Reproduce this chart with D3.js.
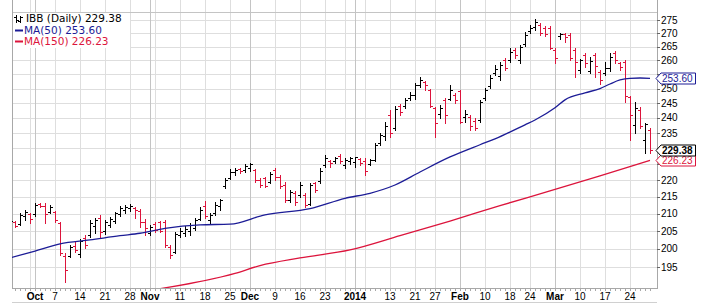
<!DOCTYPE html>
<html>
<head>
<meta charset="utf-8">
<script src="https://cdn.jsdelivr.net/npm/d3@7"></script>
<style>
  body { margin: 0; background: #fff; }
  svg { display: block; }
</style>
</head>
<body>
<div id="chart"></div>
<script>
// trading days shown (first one is clipped at the left edge)
const startDate = '2013-09-24', endDate = '2014-03-28';
const holidays = ['2013-11-28', '2013-12-25', '2014-01-01', '2014-01-20', '2014-02-17'];

// IBB daily OHLC
const open = [
  206.8, 207.6, 207.1, 209.4, 210.0, 210.0, 212.9, 212.4, 210.6, 210.6,
  207.4, 198.1, 198.1, 200.8, 198.6, 203.1, 204.0, 206.5, 208.8, 205.1,
  206.8, 207.9, 210.0, 211.2, 211.8, 211.8, 210.9, 207.6, 204.5, 207.1,
  207.6, 207.6, 200.5, 199.2, 204.0, 204.5, 205.1, 206.0, 208.5, 212.4,
  208.2, 210.3, 212.4, 218.4, 220.8, 222.6, 223.5, 223.2, 223.8, 223.2,
  220.2, 220.8, 219.6, 223.2, 221.1, 218.6, 214.1, 216.2, 215.6, 215.6,
  212.9, 219.3, 219.9, 224.8, 226.1, 226.1, 227.6, 224.8, 226.1, 225.8,
  226.7, 226.1, 225.1, 226.4, 231.8, 234.1, 241.0, 236.7, 244.1, 244.1,
  246.8, 247.8, 251.3, 252.3, 249.5, 243.4, 241.3, 246.1, 246.5, 247.8,
  249.2, 240.3, 240.3, 239.0, 239.3, 246.8, 250.9, 255.5, 254.4, 260.2,
  260.2, 263.8, 260.2, 266.0, 270.9, 272.4, 273.2, 272.1, 272.1, 263.8,
  269.0, 269.8, 269.4, 263.8, 256.6, 262.0, 256.2, 262.0, 255.9, 255.5,
  257.3, 262.7, 259.1, 259.5, 247.1, 237.7, 242.7, 232.8, 236.0
];
const high = [
  208.5, 207.9, 210.3, 211.2, 210.3, 213.2, 213.2, 213.2, 212.6, 210.9,
  207.6, 198.9, 201.1, 201.9, 202.8, 204.0, 208.2, 208.8, 209.7, 208.2,
  209.1, 210.6, 212.4, 212.6, 212.9, 212.1, 211.5, 208.5, 206.8, 207.6,
  207.9, 208.2, 201.1, 204.8, 206.0, 206.5, 207.4, 208.8, 212.1, 213.8,
  210.3, 213.5, 214.4, 220.8, 223.5, 223.8, 223.8, 225.1, 225.4, 223.5,
  220.8, 221.1, 222.6, 223.8, 221.7, 219.6, 217.1, 216.8, 219.6, 216.2,
  219.3, 219.6, 223.8, 227.9, 226.4, 227.3, 228.3, 227.0, 227.3, 227.3,
  227.0, 227.0, 226.7, 231.8, 235.0, 238.6, 242.7, 244.1, 244.7, 246.8,
  248.8, 252.0, 254.1, 252.7, 249.9, 243.7, 244.4, 246.8, 251.3, 248.5,
  249.5, 242.7, 241.0, 240.0, 246.1, 250.2, 254.8, 258.4, 259.5, 261.0,
  264.5, 264.5, 265.7, 270.5, 273.2, 275.5, 274.0, 272.8, 272.8, 264.5,
  270.2, 270.2, 270.2, 264.5, 260.6, 262.7, 261.3, 262.7, 256.6, 259.5,
  262.7, 263.4, 259.5, 260.2, 247.5, 245.4, 243.7, 238.3, 236.7
];
const low = [
  206.5, 206.2, 206.8, 208.2, 207.4, 209.4, 212.1, 207.4, 210.3, 207.6,
  198.3, 191.1, 197.8, 199.2, 197.8, 200.3, 203.4, 204.5, 203.4, 204.2,
  206.2, 207.4, 209.4, 210.3, 210.9, 208.8, 206.2, 204.0, 204.0, 204.8,
  204.8, 200.5, 197.5, 198.9, 203.4, 203.7, 204.0, 205.4, 208.2, 208.8,
  207.4, 209.7, 211.2, 217.7, 220.5, 221.7, 222.3, 222.6, 222.9, 219.6,
  218.0, 218.0, 219.3, 220.2, 217.7, 213.5, 213.5, 212.6, 215.0, 212.1,
  212.6, 216.5, 219.3, 224.2, 224.2, 225.4, 225.4, 223.8, 225.1, 224.2,
  224.8, 221.7, 224.8, 226.1, 231.2, 232.8, 233.8, 236.0, 241.0, 243.4,
  246.1, 246.5, 250.6, 249.5, 243.7, 233.8, 240.0, 238.3, 246.1, 245.1,
  238.3, 238.6, 236.0, 236.0, 238.6, 246.1, 250.2, 254.8, 253.0, 256.6,
  259.5, 261.0, 259.1, 265.3, 270.2, 271.3, 269.4, 269.0, 264.2, 259.1,
  267.9, 266.8, 260.2, 254.1, 255.5, 257.7, 255.5, 254.1, 251.6, 254.8,
  256.2, 259.1, 256.6, 245.4, 232.8, 235.0, 236.7, 228.6, 228.6
];
const close = [
  207.9, 206.5, 209.7, 210.6, 208.5, 212.6, 212.4, 210.0, 212.1, 208.2,
  198.9, 194.2, 200.5, 199.7, 202.2, 201.1, 207.4, 208.2, 204.8, 207.6,
  208.5, 210.3, 211.8, 212.1, 212.4, 211.2, 207.6, 206.0, 206.2, 205.4,
  205.1, 201.1, 198.3, 204.2, 205.1, 205.7, 206.8, 208.2, 211.2, 209.4,
  209.7, 212.6, 214.1, 220.2, 222.6, 223.2, 222.9, 224.5, 225.1, 220.2,
  218.6, 218.3, 222.0, 221.1, 218.3, 214.1, 216.5, 213.5, 218.6, 212.6,
  218.6, 217.1, 222.9, 227.0, 225.4, 227.0, 226.1, 226.4, 227.0, 227.3,
  225.4, 222.9, 226.4, 231.2, 234.4, 237.3, 235.0, 243.0, 242.0, 246.1,
  247.8, 251.3, 253.0, 251.3, 244.1, 238.3, 243.4, 241.0, 249.5, 246.1,
  238.6, 241.3, 237.3, 236.7, 245.4, 249.5, 253.7, 257.0, 258.4, 257.3,
  263.1, 262.0, 264.9, 269.4, 272.1, 274.3, 270.2, 269.8, 264.5, 261.0,
  269.8, 268.6, 261.0, 259.5, 260.2, 259.1, 259.8, 258.0, 253.0, 257.3,
  261.3, 260.2, 257.7, 247.5, 241.0, 243.4, 237.3, 238.0, 229.38
];

// moving averages, sampled along the drawn lines (bar index, value)
const ma50Idx = [0, 5, 10, 16, 22, 26, 31, 38, 44, 51, 60, 67, 72, 77, 82, 88, 94, 97, 103, 105, 109, 111, 115, 118, 120, 122, 124, 126, 128];
const ma50Val = [197.5, 199.4, 201.4, 202.5, 203.7, 204.4, 205.8, 206.8, 207.0, 209.7, 211.5, 214.6, 216.1, 218.6, 222.6, 227.3, 231.2, 233.1, 237.7, 239.3, 243.4, 246.1, 248.5, 250.0, 251.6, 253.0, 253.6, 253.7, 253.6];
const ma150Idx = [29, 45, 50, 58, 68, 78, 88, 98, 108, 118, 128];
const ma150Val = [189.0, 193.3, 195.4, 197.5, 199.7, 203.7, 207.9, 212.4, 216.8, 221.4, 226.23];

const yTicks = [195, 200, 205, 210, 215, 220, 225, 230, 235, 240, 245, 250, 255, 260, 265, 270, 275];
const monthNames = ['Jan', 'Feb', 'Mar', 'Apr', 'May', 'Jun', 'Jul', 'Aug', 'Sep', 'Oct', 'Nov', 'Dec'];

const lastLabel = { price: 'IBB (Daily) 229.38', ma50: 'MA(50) 253.60', ma150: 'MA(150) 226.23' };
const tags = { ma50: 253.60, close: 229.38, ma150: 226.23 };

const W = 702, H = 304;
const plot = { left: 12, right: 657, top: 0, bottom: 288 };
const UP = '#000000', DOWN = '#dc143c', BLUE = '#1c1c96', RED = '#dc143c';

const fmt = d3.utcFormat('%Y-%m-%d');
const hol = new Set(holidays);
const dates = d3.utcDay.range(new Date(startDate), d3.utcDay.offset(new Date(endDate), 1))
  .filter(d => d.getUTCDay() % 6 !== 0 && !hol.has(fmt(d)));

const bars = dates.map((d, k) => ({
  k, date: d, o: open[k], h: high[k], l: low[k], c: close[k],
  up: k === 0 || close[k] >= close[k - 1]
}));

const x = d3.scaleLinear().domain([0.4, dates.length + 0.4]).range([plot.left, plot.right]);
const y = d3.scaleLog().domain([189.4, 282.8]).range([plot.bottom, plot.top]);
const px = v => Math.round(v) + 0.5;

const svg = d3.select('#chart').append('svg')
  .attr('width', W).attr('height', H)
  .style('font-family', '"Liberation Sans", Arial, sans-serif');

svg.append('defs').append('clipPath').attr('id', 'clip')
  .append('rect')
  .attr('x', plot.left).attr('y', plot.top)
  .attr('width', plot.right - plot.left).attr('height', plot.bottom - plot.top);

// week / month grid positions
const grid = [];
bars.forEach((b, k) => {
  if (k === 0) return;
  const prev = bars[k - 1].date;
  const monthStart = b.date.getUTCMonth() !== prev.getUTCMonth();
  const weekStart = b.date.getUTCDay() <= prev.getUTCDay();
  if (monthStart || weekStart) grid.push({ k, date: b.date, monthStart });
});
const monthKs = grid.filter(g => g.monthStart).map(g => g.k);
grid.forEach(g => {
  if (g.monthStart) {
    g.label = g.date.getUTCMonth() === 0 ? String(g.date.getUTCFullYear()) : monthNames[g.date.getUTCMonth()];
  } else if (!monthKs.some(m => Math.abs(m - g.k) <= 2)) {
    g.label = String(g.date.getUTCDate());
  }
});

// horizontal grid
svg.append('g').selectAll('line').data(yTicks).join('line')
  .attr('x1', plot.left).attr('x2', plot.right)
  .attr('y1', d => px(y(d))).attr('y2', d => px(y(d)))
  .attr('stroke', '#dedede').attr('shape-rendering', 'crispEdges');

// vertical grid
svg.append('g').selectAll('line').data(grid).join('line')
  .attr('x1', d => px(x(d.k))).attr('x2', d => px(x(d.k)))
  .attr('y1', plot.top).attr('y2', plot.bottom)
  .attr('stroke', d => d.monthStart ? '#c4c4c4' : '#dedede')
  .attr('shape-rendering', 'crispEdges');

// upper rule of the price panel
svg.append('line')
  .attr('x1', plot.left).attr('x2', plot.right)
  .attr('y1', 12.5).attr('y2', 12.5)
  .attr('stroke', '#c4c4c4').attr('shape-rendering', 'crispEdges');

// plot frame
svg.append('path')
  .attr('d', `M${plot.left + 0.5},${plot.top}V${plot.bottom + 0.5}H${plot.right + 0.5}V${plot.top}`)
  .attr('fill', 'none').attr('stroke', '#a8a8a8').attr('shape-rendering', 'crispEdges');

// day ticks under the plot
svg.append('g').selectAll('line').data(bars.filter(b => x(b.k) > plot.left)).join('line')
  .attr('x1', d => px(x(d.k))).attr('x2', d => px(x(d.k)))
  .attr('y1', plot.bottom + 1).attr('y2', plot.bottom + 3)
  .attr('stroke', '#a8a8a8').attr('shape-rendering', 'crispEdges');

svg.append('line')
  .attr('x1', plot.left).attr('x2', plot.right)
  .attr('y1', 302.5).attr('y2', 302.5)
  .attr('stroke', '#d0d0d0').attr('shape-rendering', 'crispEdges');

// x labels
svg.append('g').selectAll('text').data(grid.filter(g => g.label)).join('text')
  .attr('x', d => x(d.k)).attr('y', 300)
  .attr('text-anchor', 'middle')
  .attr('font-size', 10)
  .attr('font-weight', d => d.monthStart ? 'bold' : 'normal')
  .attr('fill', '#000')
  .text(d => d.label);

// y axis ticks and labels (labels under a value tag are covered by it)
const tagYs = Object.values(tags).map(v => y(v));
const yAxis = svg.append('g');
yAxis.selectAll('line').data(yTicks).join('line')
  .attr('x1', plot.right).attr('x2', plot.right + 3)
  .attr('y1', d => px(y(d))).attr('y2', d => px(y(d)))
  .attr('stroke', '#666').attr('shape-rendering', 'crispEdges');
yAxis.selectAll('text').data(yTicks.filter(t => tagYs.every(ty => Math.abs(y(t) - ty) > 9))).join('text')
  .attr('x', plot.right + 4).attr('y', d => y(d))
  .attr('dy', '0.35em').attr('font-size', 10).attr('fill', '#000')
  .text(d => d);

// price bars
const barG = svg.append('g').attr('clip-path', 'url(#clip)')
  .attr('shape-rendering', 'crispEdges');
const barSel = barG.selectAll('g').data(bars).join('g')
  .attr('stroke', d => d.up ? UP : DOWN);
barSel.append('line')
  .attr('x1', d => px(x(d.k))).attr('x2', d => px(x(d.k)))
  .attr('y1', d => Math.round(y(d.h))).attr('y2', d => Math.round(y(d.l)) + 1);
barSel.append('line')
  .attr('x1', d => Math.round(x(d.k)) - 2).attr('x2', d => Math.round(x(d.k)))
  .attr('y1', d => px(y(d.o))).attr('y2', d => px(y(d.o)));
barSel.append('line')
  .attr('x1', d => Math.round(x(d.k)) + 1).attr('x2', d => Math.round(x(d.k)) + 3)
  .attr('y1', d => px(y(d.c))).attr('y2', d => px(y(d.c)));

// moving averages
const maLine = d3.line().x(d => x(d[0])).y(d => y(d[1])).curve(d3.curveMonotoneX);
const lines = svg.append('g').attr('clip-path', 'url(#clip)').attr('fill', 'none');
lines.append('path')
  .attr('d', maLine(d3.zip(ma150Idx, ma150Val)))
  .attr('stroke', RED).attr('stroke-width', 1.3);
lines.append('path')
  .attr('d', maLine(d3.zip(ma50Idx, ma50Val)))
  .attr('stroke', BLUE).attr('stroke-width', 1.3);

// value tags on the right axis
function tag(v, txt, stroke, color, bold) {
  const yy = Math.round(y(v)) + 0.5;
  const g = svg.append('g');
  g.append('path')
    .attr('d', `M${plot.right - 1},${yy}L${plot.right + 4},${yy - 5.5}H695.5V${yy + 5.5}H${plot.right + 4}Z`)
    .attr('fill', '#fff').attr('stroke', stroke).attr('stroke-width', 1);
  g.append('text')
    .attr('x', plot.right + 5).attr('y', yy).attr('dy', '0.36em')
    .attr('font-size', 10).attr('font-weight', bold ? 'bold' : 'normal')
    .attr('fill', color).text(txt);
}
tag(tags.ma50, tags.ma50.toFixed(2), BLUE, BLUE, false);
tag(tags.ma150, tags.ma150.toFixed(2), RED, RED, false);
tag(tags.close, tags.close.toFixed(2), '#000', '#000', true);

// legend
const leg = svg.append('g');
leg.append('rect').attr('x', 13).attr('y', 13).attr('width', 117).attr('height', 35).attr('fill', '#fff');
const icon = leg.append('g').attr('stroke', '#000').attr('shape-rendering', 'crispEdges');
icon.append('path').attr('d', 'M16.5,15V23M14,17.5H16M17,20.5H19M20.5,16V23M18,21.5H20M21,17.5H23');
leg.append('text').attr('x', 26).attr('y', 22).attr('font-size', 10.5)
  .attr('font-family', '"DejaVu Sans", Verdana, sans-serif').attr('fill', '#000').text(lastLabel.price);
leg.append('line').attr('x1', 15).attr('x2', 23).attr('y1', 30.5).attr('y2', 30.5)
  .attr('stroke', BLUE).attr('stroke-width', 2);
leg.append('text').attr('x', 24).attr('y', 33.5).attr('font-size', 10.5)
  .attr('font-family', '"DejaVu Sans", Verdana, sans-serif').attr('fill', BLUE).text(lastLabel.ma50);
leg.append('line').attr('x1', 15).attr('x2', 23).attr('y1', 41.5).attr('y2', 41.5)
  .attr('stroke', RED).attr('stroke-width', 2);
leg.append('text').attr('x', 24).attr('y', 44.5).attr('font-size', 10.5)
  .attr('font-family', '"DejaVu Sans", Verdana, sans-serif').attr('fill', RED).text(lastLabel.ma150);
</script>
</body>
</html>
